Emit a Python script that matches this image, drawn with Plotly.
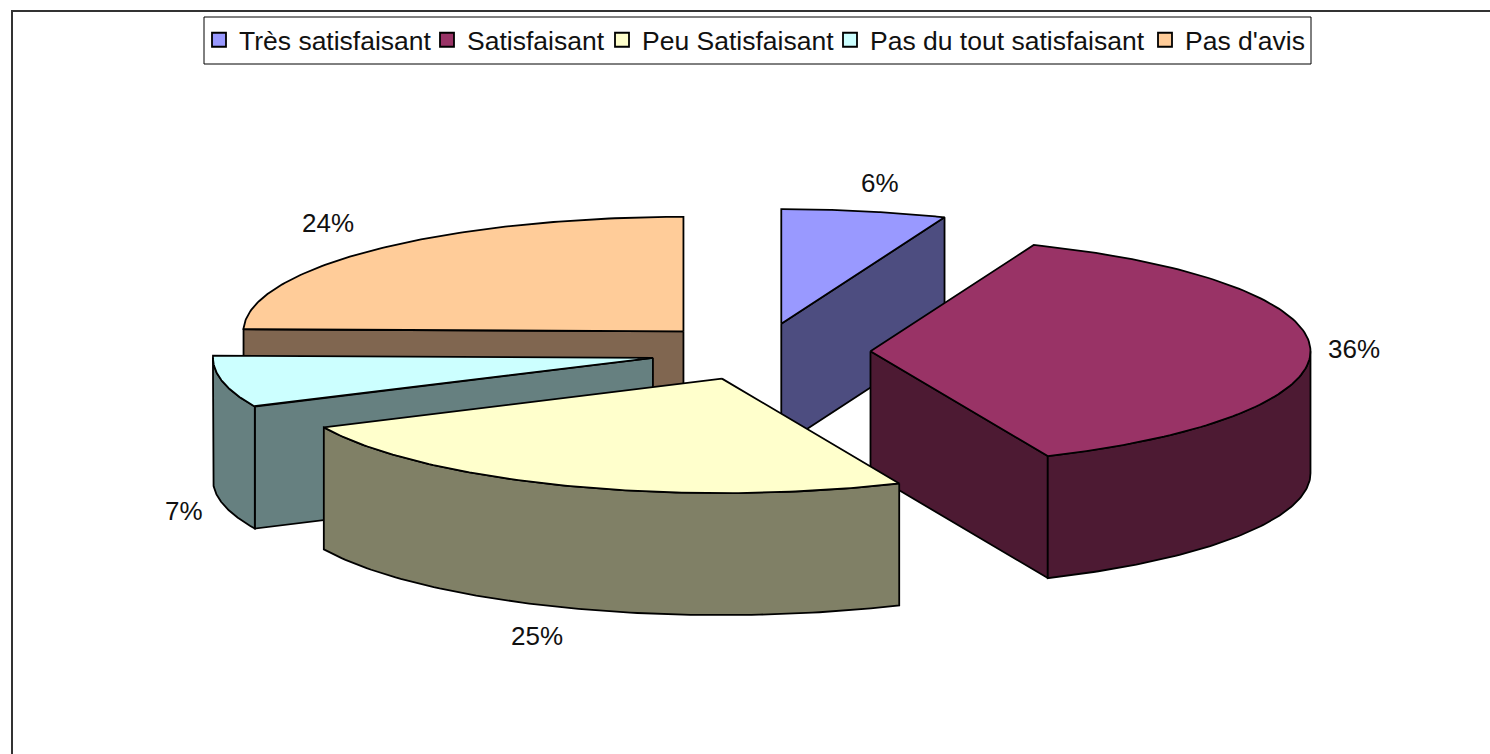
import numpy as np
import plotly.graph_objects as go

# ---- data ----
categories = ["Très satisfaisant", "Satisfaisant", "Peu Satisfaisant",
              "Pas du tout satisfaisant", "Pas d'avis"]
# slice sweep measured on the drawn pie (share of the full circle, in %)
shares = [6.05, 37.35, 24.6, 7.3, 24.7]
# percentages printed next to the slices
percent_labels = [6, 36, 25, 7, 24]

# ---- styles and layout ----
top_colors = ["#9999FF", "#993366", "#FFFFCC", "#CCFFFF", "#FFCC99"]
side_colors = ["#4D4D80", "#4D1A33", "#808066", "#668080", "#806650"]
draw_order = [4, 0, 3, 1, 2]
CX, CY = 760.5, 351.8      # pie centre
RX, RY = 440, 114.5        # ellipse radii
DEPTH = 122                # extrusion
EXPLODE = 0.25
LW = 1.8
label_pos = [(880, 183), (1354, 349), (537, 636), (184, 511), (328, 223)]
legend_x = [199, 427, 602, 830, 1145]   # left of each legend entry
legend_y = 40
FONT = "Liberation Sans"

W, H = 1490, 754
fig = go.Figure()


def pt(ax, ay, t, r=1.0):
    return ax + r * RX * np.sin(t), ay - r * RY * np.cos(t)


def poly(xs, ys, fill):
    fig.add_trace(go.Scatter(x=list(xs), y=list(ys), mode="lines", fill="toself",
                             fillcolor=fill, line=dict(color="black", width=LW),
                             hoverinfo="skip", showlegend=False))


edges = np.radians(np.concatenate([[0], np.cumsum(shares)]) * 360 / sum(shares))

for i in draw_order:
    t0, t1 = edges[i], edges[i + 1]
    mid = (t0 + t1) / 2
    ax, ay = pt(CX, CY, mid, EXPLODE)

    # radial cut faces that look towards the viewer
    for t, visible in ((t0, np.sin(t0) < -1e-6), (t1, np.sin(t1) > 1e-6)):
        if visible:
            ex, ey = pt(ax, ay, t)
            poly([ax, ex, ex, ax, ax], [ay, ey, ey + DEPTH, ay + DEPTH, ay], side_colors[i])

    # outer wall, front half only
    w0, w1 = max(t0, np.pi / 2), min(t1, 3 * np.pi / 2)
    if w1 > w0:
        ts = np.linspace(w0, w1, 90)
        xs, ys = pt(ax, ay, ts)
        poly(np.r_[xs, xs[::-1], xs[0]], np.r_[ys, ys[::-1] + DEPTH, ys[0]], side_colors[i])

    # top face
    ts = np.linspace(t0, t1, 120)
    xs, ys = pt(ax, ay, ts)
    poly(np.r_[ax, xs, ax], np.r_[ay, ys, ay], top_colors[i])

# legend: one native legend per entry so each can sit at its own place
legends = {}
for i, name in enumerate(categories):
    key = "legend" if i == 0 else f"legend{i + 1}"
    fig.add_trace(go.Scatter(x=[None], y=[None], mode="markers", name=name,
                             legend=key, hoverinfo="skip",
                             marker=dict(symbol="square", size=14, color=top_colors[i],
                                         line=dict(color="black", width=1.8))))
    legends[key] = dict(x=legend_x[i] / W, y=1 - legend_y / H, xanchor="left", yanchor="middle",
                        orientation="h", bgcolor="rgba(0,0,0,0)", borderwidth=0,
                        itemclick=False, itemdoubleclick=False,
                        font=dict(family=FONT, size=26.5, color="#111111"))

annotations = [dict(x=x, y=y, xref="x", yref="y", text=f"{v}%", showarrow=False,
                    font=dict(family=FONT, size=26, color="#111111"))
               for (x, y), v in zip(label_pos, percent_labels)]

shapes = [
    dict(type="rect", xref="x", yref="y", x0=12, y0=11, x1=W + 20, y1=H + 20,
         line=dict(color="#333333", width=2), layer="below"),
    dict(type="rect", xref="x", yref="y", x0=204, y0=17, x1=1311, y1=64,
         line=dict(color="black", width=1), layer="below"),
]

fig.update_layout(
    width=W, height=H, margin=dict(l=0, r=0, t=0, b=0),
    paper_bgcolor="white", plot_bgcolor="white",
    xaxis=dict(range=[0, W], visible=False, fixedrange=True),
    yaxis=dict(range=[H, 0], visible=False, fixedrange=True),
    annotations=annotations, shapes=shapes, **legends,
)

fig.write_html("out.html", config={"displayModeBar": False},
               post_script="document.body.style.margin='0';")
